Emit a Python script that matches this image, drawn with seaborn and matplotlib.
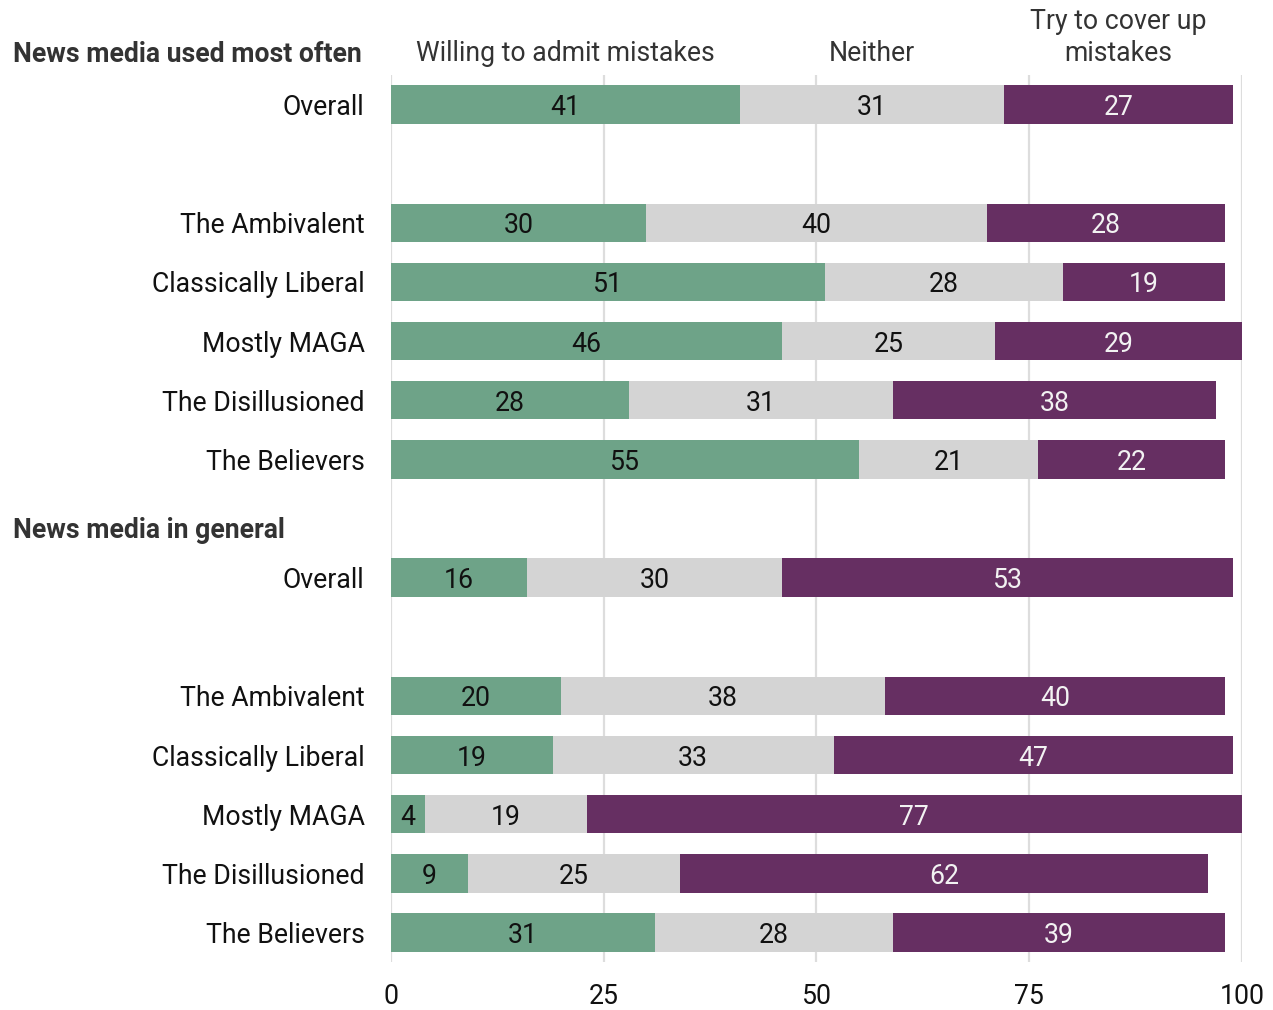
import seaborn as sns
import pandas as pd
import matplotlib.pyplot as plt
from matplotlib.transforms import blended_transform_factory

# rows (top to bottom), blank strings are spacer rows
groups = ["Overall", "The Ambivalent", "Classically Liberal", "Mostly MAGA",
          "The Disillusioned", "The Believers"]
sections = ["News media used most often", "News media in general"]
answers = ["Willing to admit mistakes", "Neither", "Try to cover up\nmistakes"]

admit_often = [41, 30, 51, 46, 28, 55]
neither_often = [31, 40, 28, 25, 31, 21]
cover_often = [27, 28, 19, 29, 38, 22]

admit_general = [16, 20, 19, 4, 9, 31]
neither_general = [30, 38, 33, 19, 25, 28]
cover_general = [53, 40, 47, 77, 62, 39]

xticks = [0, 25, 50, 75, 100]

GREEN = "#6ea388"
GREY = "#d4d4d4"
PURPLE = "#662f62"
FS = 19.2

sns.set_theme(style="white")
plt.rcParams["font.family"] = ["Roboto", "DejaVu Sans"]

# build table with spacer rows
rows = []
order = []
labels = []
def add_section(tag, admit, neither, cover):
    for i, g in enumerate(groups):
        key = f"{tag}_{i}"
        rows.append(dict(key=key, label=g, admit=admit[i], neither=neither[i], cover=cover[i]))
        order.append(key)
        labels.append(g)
        if i == 0:
            order.append(f"{tag}_gap")
            labels.append("")

add_section("often", admit_often, neither_often, cover_often)
order.append("header2")
labels.append("")
add_section("general", admit_general, neither_general, cover_general)

df = pd.DataFrame(rows)
df["c1"] = df["admit"]
df["c2"] = df["admit"] + df["neither"]
df["c3"] = df["c2"] + df["cover"]

fig = plt.figure(figsize=(12.73, 10.10), dpi=100)
ax = fig.add_axes([391 / 1273, 1 - 962 / 1010, (1242 - 391) / 1273, (962 - 75) / 1010])

for col, color in [("c3", PURPLE), ("c2", GREY), ("c1", GREEN)]:
    sns.barplot(data=df, x=col, y="key", order=order, color=color,
                width=0.65, saturation=1, ax=ax, zorder=3, linewidth=0)

pos = {k: i for i, k in enumerate(order)}
for _, r in df.iterrows():
    y = pos[r["key"]]
    for v, c, tc in [(r["admit"], r["c1"], "#111111"),
                     (r["neither"], r["c2"], "#111111"),
                     (r["cover"], r["c3"], "#f2f2f2")]:
        ax.text(c - v / 2, y, f"{v}", ha="center", va="center_baseline",
                fontsize=FS, color=tc, zorder=5)

ax.set_xlim(0, 100)
ax.set_ylim(len(order) - 0.5, -0.5)
ax.set_xticks(xticks)
ax.set_xticklabels([str(t) for t in xticks], fontsize=FS, color="#111111")
ax.set_yticks(range(len(order)))
ax.set_yticklabels(labels, fontsize=FS, color="#111111")
ax.tick_params(axis="both", length=0)
ax.tick_params(axis="x", pad=15)
ax.tick_params(axis="y", pad=19)
ax.set_xlabel("")
ax.set_ylabel("")
for t in xticks:
    ax.axvline(t, color="#dddddd", lw=1.6, zorder=1)
sns.despine(ax=ax, left=True, bottom=True)

# section headers
tr = blended_transform_factory(fig.transFigure, ax.transData)
ax.text(13 / 1273, -0.85, sections[0], transform=tr, ha="left", va="center",
        fontsize=FS, fontweight="bold", color="#333333")
ax.text(13 / 1273, pos["header2"] + 0.2, sections[1], transform=tr, ha="left",
        va="center", fontsize=FS, fontweight="bold", color="#333333")

# column headers centred over the first row's segments
first = df.iloc[0]
centers = [first["c1"] - first["admit"] / 2,
           first["c2"] - first["neither"] / 2,
           first["c3"] - first["cover"] / 2]
for name, cx in zip(answers, centers):
    ax.annotate(name, xy=(cx, 1), xycoords=ax.get_xaxis_transform(),
                xytext=(0, 6), textcoords="offset points", ha="center",
                va="bottom", fontsize=FS, color="#333333", linespacing=1.2)

plt.savefig("out.png", dpi=100)
